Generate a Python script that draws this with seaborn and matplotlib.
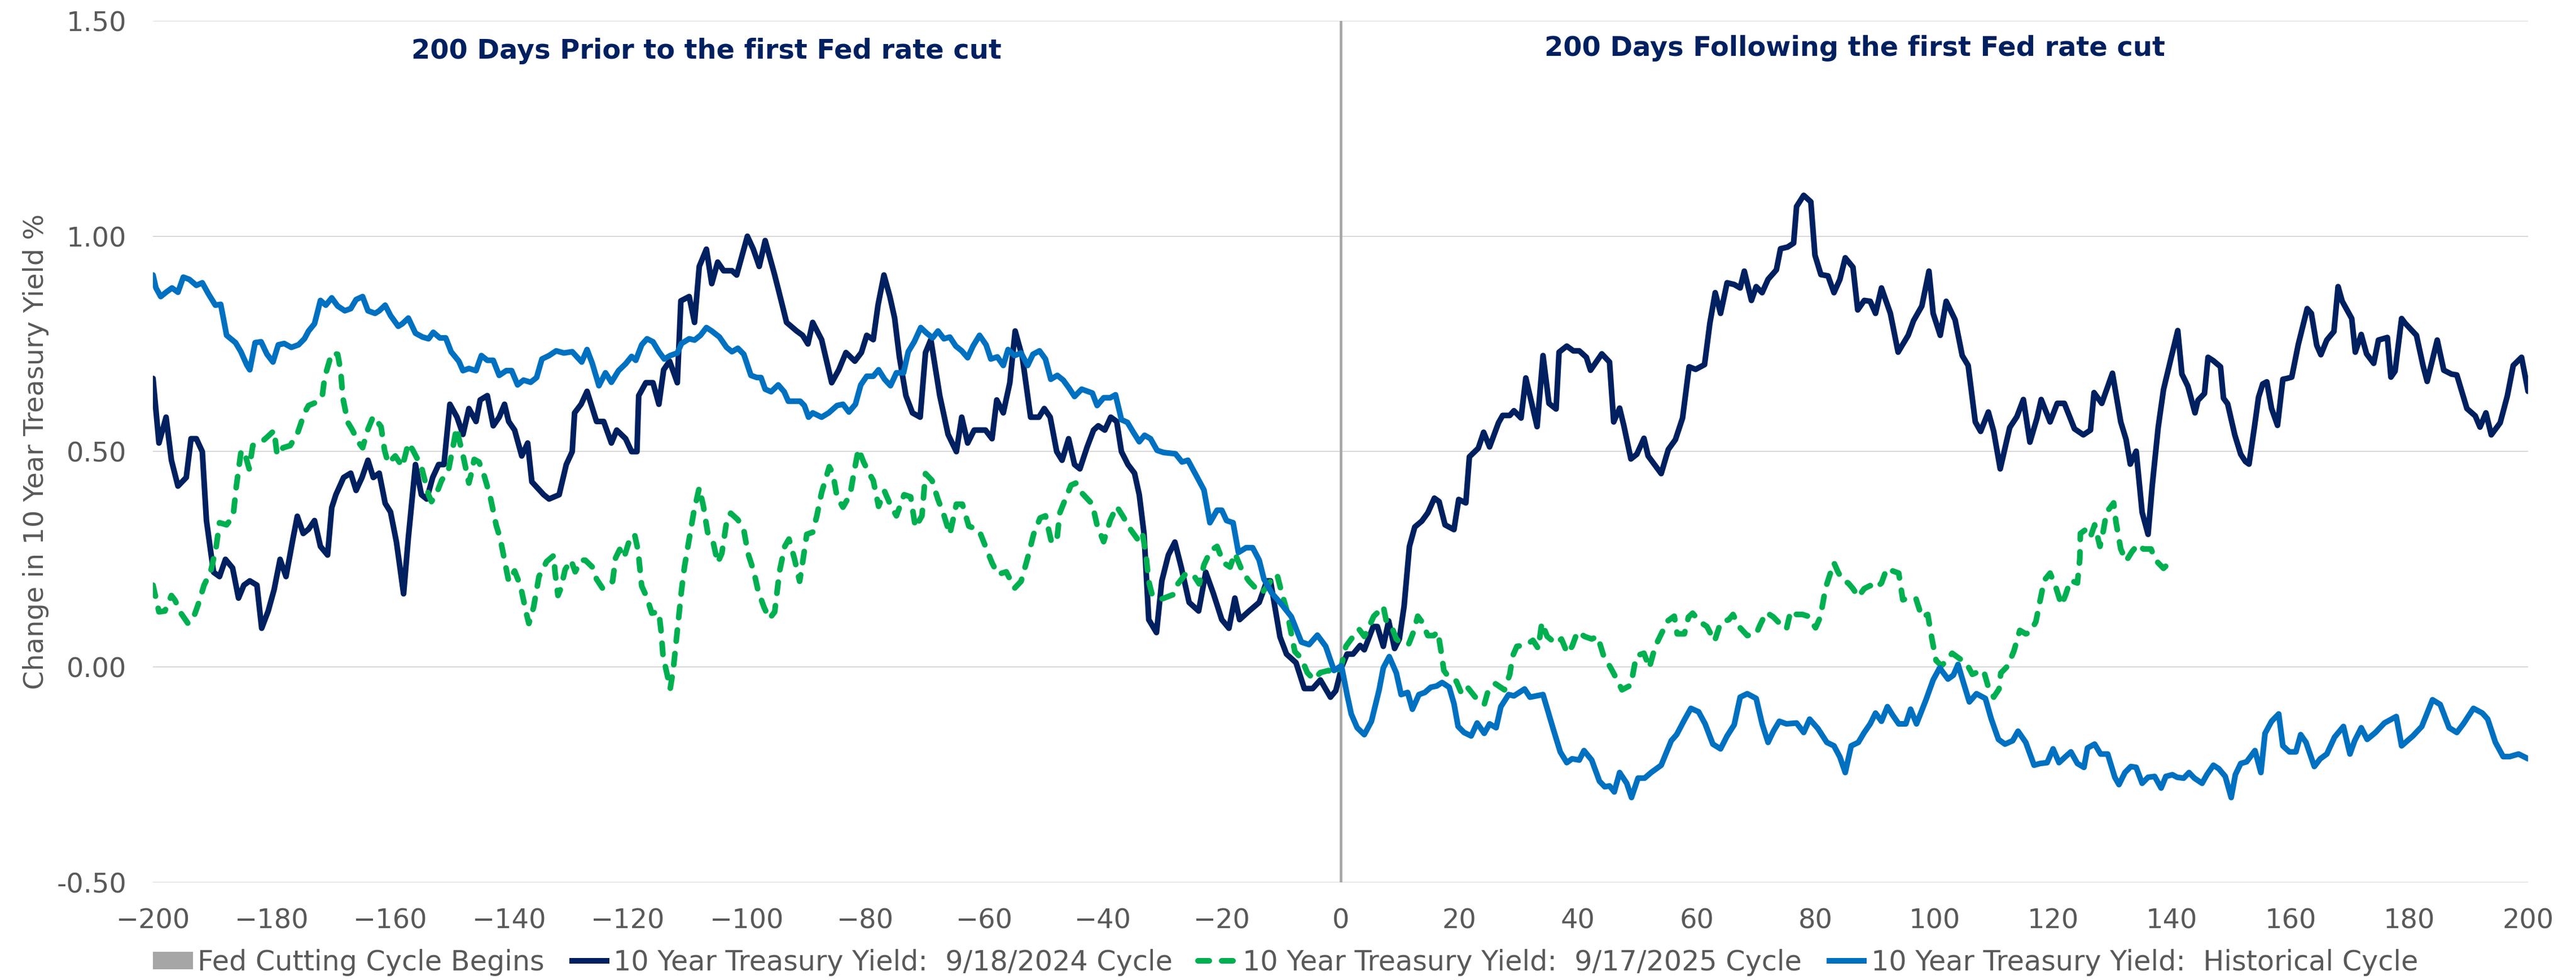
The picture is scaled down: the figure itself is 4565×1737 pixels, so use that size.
import matplotlib
matplotlib.use("Agg")
import matplotlib.pyplot as plt
from matplotlib.lines import Line2D
from matplotlib.patches import Patch
import seaborn as sns
import pandas as pd

# (days from first cut, change in 10y yield %)
cycle_2024 = [
    (-200, .67), (-199, .52), (-197.8, .58), (-196.9, .48), (-195.8, .42), (-194.4, .44), (-193.6, .53),
    (-192.7, .53), (-191.7, .50), (-191, .34), (-189.8, .22), (-188.8, .21), (-187.8, .25), (-186.6, .23),
    (-185.6, .16), (-184.7, .19), (-183.7, .20), (-182.5, .19), (-181.7, .09), (-180.6, .13), (-179.6, .18),
    (-178.6, .25), (-177.6, .21), (-176.4, .30), (-175.7, .35), (-174.7, .31), (-173.8, .32), (-172.8, .34),
    (-171.8, .28), (-170.6, .26), (-169.9, .37), (-169.2, .40), (-167.9, .44), (-166.7, .45), (-165.8, .41),
    (-164.8, .44), (-163.8, .48), (-162.9, .44), (-161.9, .45), (-160.9, .38), (-160, .36), (-159, .29),
    (-157.8, .17), (-157, .30), (-155.8, .47), (-154.8, .40), (-153.9, .39), (-152.9, .44), (-151.9, .47),
    (-151, .47), (-150, .61), (-148.8, .58), (-147.8, .54), (-146.8, .60), (-145.6, .57), (-144.9, .62),
    (-143.7, .63), (-142.7, .56), (-141.7, .58), (-140.8, .61), (-140.1, .57), (-139.1, .55), (-137.9, .49),
    (-136.9, .52), (-136.2, .43), (-134.2, .40), (-133.3, .39), (-131.6, .40), (-130.4, .47), (-129.4, .50),
    (-129, .59), (-127.9, .61), (-126.9, .64), (-125.3, .57), (-124.1, .57), (-122.8, .52), (-121.9, .55),
    (-120.4, .53), (-119.4, .50), (-118.5, .50), (-118.2, .63), (-117, .66), (-115.8, .66), (-114.8, .61),
    (-114, .69), (-113, .71), (-111.7, .66), (-111.1, .85), (-109.7, .86), (-108.8, .80), (-108, .93),
    (-106.8, .97), (-105.9, .89), (-104.9, .94), (-103.9, .92), (-102.5, .92), (-101.7, .91), (-100.9, .95),
    (-99.9, 1.00), (-98.9, .97), (-97.9, .93), (-96.9, .99), (-95.3, .91), (-94.2, .85), (-93.3, .80),
    (-91.6, .78), (-90.6, .77), (-89.7, .75), (-88.9, .80), (-87.4, .76), (-85.7, .66), (-84.5, .69),
    (-83.3, .73), (-81.8, .71), (-80.7, .73), (-79.8, .77), (-78.7, .76), (-77.9, .84), (-76.9, .91),
    (-75.9, .86), (-75.1, .81), (-74.3, .72), (-73.2, .63), (-72.1, .59), (-70.8, .58), (-69.9, .73),
    (-69, .76), (-67.5, .63), (-66.1, .54), (-64.7, .50), (-63.8, .58), (-62.8, .52), (-61.7, .55),
    (-59.8, .55), (-58.7, .53), (-57.9, .62), (-56.8, .59), (-55.7, .66), (-54.8, .78), (-53.6, .72),
    (-52.2, .58), (-50.8, .58), (-49.9, .60), (-48.9, .58), (-47.8, .50), (-46.9, .48), (-45.8, .53),
    (-44.8, .47), (-43.9, .46), (-42.7, .51), (-41.6, .55), (-40.8, .56), (-39.7, .55), (-38.7, .58),
    (-37.7, .57), (-36.9, .50), (-35.8, .47), (-34.7, .45), (-33.9, .40), (-33.1, .31), (-32.3, .11),
    (-31, .08), (-30.1, .20), (-29, .26), (-27.9, .29), (-26.8, .23), (-25.5, .15), (-23.9, .13),
    (-22.7, .22), (-21.4, .17), (-20, .11), (-18.8, .09), (-17.8, .16), (-17, .11), (-15.4, .13),
    (-13.7, .15), (-12.4, .20), (-11.8, .20), (-10.2, .07), (-9.1, .03), (-7.5, .01), (-6.1, -.05),
    (-4.7, -.05), (-3.4, -.03), (-1.7, -.07), (-0.8, -.055), (0.2, .00), (1.1, .03), (2.1, .03),
    (3.3, .05), (4, .04), (4.7, .065), (5.5, .094), (6.2, .094), (7.2, .048), (8.1, .107), (9.1, .043),
    (9.9, .065), (10.7, .141), (11.6, .28), (12.5, .325), (13.7, .339), (14.7, .358), (15.8, .392),
    (16.6, .384), (17.6, .33), (19.1, .319), (19.9, .389), (21.1, .381), (21.7, .488), (23.2, .508),
    (24.1, .545), (25.1, .511), (26.6, .567), (27.3, .584), (28.5, .584), (29.2, .595), (30.4, .578),
    (31.2, .671), (32.2, .612), (33.1, .558), (34.1, .723), (35.1, .612), (36.3, .599), (36.8, .731),
    (38.1, .745), (39.2, .734), (40.2, .734), (41.4, .719), (42.1, .689), (44, .727), (45.3, .708),
    (46, .569), (47, .601), (47.7, .561), (48.9, .483), (49.9, .494), (51.1, .531), (51.8, .49),
    (54, .449), (55.2, .505), (56.4, .528), (57.6, .578), (58.7, .697), (59.8, .691), (61.3, .702),
    (62.2, .798), (63.1, .869), (64, .821), (65.1, .892), (66.3, .888), (67.3, .88), (68, .919),
    (69.2, .851), (70, .883), (71, .869), (72, .90), (73.4, .922), (74.1, .971), (75.3, .975),
    (76.3, .984), (76.8, 1.069), (78, 1.095), (79.2, 1.08), (79.9, .956), (80.9, .911), (82.1, .908),
    (83.1, .869), (84.1, .90), (85, .95), (86.3, .928), (87.1, .829), (88.2, .851), (89.2, .849),
    (90.1, .821), (91.1, .88), (92.6, .821), (93.9, .731), (95.6, .77), (96.5, .804), (97.9, .838),
    (99.1, .919), (99.8, .821), (101, .77), (102, .849), (103.5, .806), (104.7, .723), (105.7, .70),
    (106.9, .569), (107.8, .547), (109.1, .592), (110, .547), (111.1, .46), (112.7, .556), (113.9, .581),
    (115, .621), (116.1, .522), (117.3, .578), (118, .621), (119.5, .569), (120.7, .612), (121.9, .612),
    (123.6, .553), (125.1, .539), (126.3, .55), (126.9, .637), (128.2, .612), (130, .682), (131.4, .569),
    (132.3, .528), (133, .471), (134, .501), (135, .359), (136, .308), (136.7, .421), (137.7, .556),
    (138.6, .644), (139.9, .719), (141, .781), (141.7, .68), (142.7, .652), (143.9, .59), (144.4, .619),
    (145.5, .635), (146.1, .719), (147, .711), (148.2, .697), (148.7, .624), (149.4, .611), (150.6, .539),
    (151.6, .494), (152.4, .477), (153, .471), (153.9, .556), (154.6, .626), (155.3, .657), (156, .662),
    (156.8, .60), (157.8, .561), (158.7, .668), (159.4, .67), (160.2, .673), (161.3, .749), (162.8, .832),
    (163.5, .821), (164.4, .747), (165.1, .725), (166.1, .759), (167.3, .779), (168, .883), (168.7, .849),
    (170.3, .809), (170.9, .731), (171.9, .772), (172.8, .727), (174, .705), (174.8, .759), (176.3, .765),
    (176.9, .673), (177.6, .687), (178.7, .809), (179.3, .798), (181.2, .77), (182.3, .70), (183, .663),
    (184.7, .759), (185.8, .689), (187.1, .68), (188, .678), (189.7, .60), (191.1, .583), (191.9, .557),
    (192.9, .59), (193.8, .539), (195.3, .567), (196.5, .629), (197.5, .70), (198.9, .719), (200, .64),
]

cycle_2025 = [
    (-200, .19), (-199, .128), (-198, .13), (-196.9, .166), (-196.3, .155), (-195.3, .125), (-194.1, .101),
    (-193.3, .11), (-192.4, .145), (-191.4, .19), (-190.3, .221), (-189.4, .275), (-188.8, .335),
    (-187.6, .33), (-186.5, .351), (-186, .416), (-185.2, .498), (-184.7, .503), (-183.8, .46),
    (-183.2, .514), (-182.5, .52), (-181.5, .525), (-180.6, .536), (-179.6, .549), (-179.1, .492),
    (-178.1, .509), (-176.9, .514), (-175.7, .541), (-174.5, .59), (-173.8, .607), (-172.6, .614),
    (-171.5, .628), (-171.1, .672), (-169.9, .729), (-168.9, .726), (-168.4, .688), (-168, .623),
    (-167.2, .568), (-166.5, .552), (-165.3, .52), (-164.7, .509), (-163.8, .552), (-162.9, .582),
    (-161.6, .558), (-161, .503), (-160.4, .473), (-159.2, .49), (-158, .465), (-157, .52), (-156.3, .505),
    (-154.8, .465), (-153.6, .40), (-153.1, .384), (-152.2, .405), (-151.4, .433), (-150.2, .46),
    (-149.5, .509), (-148.9, .555), (-148.3, .52), (-147.8, .492), (-146.8, .427), (-146.4, .449),
    (-145.9, .482), (-145.1, .476), (-144.2, .443), (-143.2, .395), (-142.2, .329), (-141.5, .297),
    (-140.8, .248), (-140.1, .199), (-139.1, .223), (-138.1, .188), (-137.1, .123), (-136.7, .101),
    (-135.9, .139), (-135, .21), (-133.7, .245), (-132.5, .259), (-132.3, .221), (-131.8, .166),
    (-131.3, .183), (-130.6, .226), (-129.6, .248), (-128.9, .221), (-127.9, .248), (-127.2, .248),
    (-126, .232), (-125.3, .204), (-124.3, .183), (-123.3, .188), (-122.6, .199), (-122.1, .253),
    (-121.4, .273), (-120.7, .253), (-119.7, .297), (-118.9, .308), (-118.3, .27), (-117.7, .188),
    (-116.8, .161), (-116, .125), (-114.8, .128), (-114.4, .079), (-114.1, .025), (-113.4, -.018),
    (-112.9, -.051), (-112.4, -.008), (-111.9, .058), (-111.4, .123), (-111, .177), (-110.5, .232),
    (-109.7, .297), (-108.9, .362), (-108, .416), (-107.3, .373), (-106.6, .313), (-105.6, .286),
    (-104.9, .242), (-104.2, .264), (-103.3, .346), (-102.7, .357), (-101.5, .342), (-100.5, .318),
    (-99.8, .264), (-98.8, .221), (-98.1, .177), (-97.1, .139), (-96.2, .112), (-95.3, .128),
    (-94.5, .221), (-93.6, .28), (-92.9, .297), (-92, .253), (-91.1, .199), (-90.6, .242), (-89.9, .308),
    (-88.9, .313), (-88.2, .351), (-87.4, .405), (-86.1, .465), (-85.5, .449), (-84.8, .395),
    (-83.8, .371), (-82.6, .40), (-81.9, .455), (-81.2, .506), (-80.3, .475), (-79.4, .45), (-78.7, .433),
    (-77.8, .373), (-76.8, .408), (-75.7, .373), (-74.8, .351), (-73.5, .40), (-72.4, .395),
    (-71.6, .324), (-70.5, .351), (-69.9, .449), (-68.8, .433), (-67.8, .389), (-66.9, .357),
    (-65.8, .308), (-64.7, .378), (-63.7, .378), (-62.6, .327), (-60.9, .318), (-59.8, .28),
    (-58.7, .242), (-57.7, .215), (-56.3, .221), (-54.9, .183), (-53.8, .199), (-52.7, .253),
    (-51.7, .308), (-50.6, .346), (-49.7, .351), (-48.7, .291), (-47.8, .291), (-47.3, .357),
    (-46.2, .395), (-45.4, .422), (-44.6, .427), (-43.5, .403), (-41.8, .378), (-41, .329),
    (-39.9, .291), (-38.8, .34), (-37.7, .373), (-36.7, .351), (-35.3, .318), (-34.2, .297),
    (-33.4, .313), (-32.8, .264), (-32.3, .199), (-31.7, .166), (-30.1, .158), (-28.2, .168),
    (-27.4, .193), (-26, .218), (-24.7, .212), (-23.8, .193), (-23, .237), (-21.9, .27), (-20.8, .28),
    (-19.7, .242), (-18.6, .232), (-17.8, .264), (-16.5, .221), (-15.4, .199), (-14.3, .183),
    (-13.2, .172), (-11.8, .199), (-10.7, .215), (-9.9, .172), (-9.1, .134), (-7.7, .036), (-6.6, .02),
    (-5.6, -.013), (-4.5, -.029), (-3.4, -.013), (-2, -.008), (-1.1, -.017), (0.15, .003), (0.9, .048),
    (1.8, .065), (3.1, .088), (4, .071), (4.8, .094), (5.6, .118), (6.5, .13), (7.2, .141), (7.7, .107),
    (8.6, .094), (9.4, .065), (10.3, .054), (11.5, .054), (12.3, .082), (13, .118), (13.7, .105),
    (14.7, .073), (15.7, .073), (16.4, .082), (16.9, .039), (17.4, -.008), (18.3, -.025), (19.5, -.033),
    (20.3, -.059), (21.2, -.044), (22.7, -.07), (24.2, -.087), (24.9, -.053), (26.1, -.039),
    (27.6, -.053), (28.5, -.017), (29, .026), (29.7, .048), (31.2, .051), (32.4, .062), (33.3, .043),
    (33.9, .103), (34.8, .071), (36.3, .054), (37.2, .065), (38.2, .032), (39, .048), (39.9, .082),
    (41.1, .071), (42.3, .065), (43.3, .071), (44.3, .026), (45.5, -.002), (46.5, -.028), (47.4, -.053),
    (48.9, -.042), (49.8, .026), (51.1, .032), (52, -.002), (53, .048), (54.2, .082), (54.9, .105),
    (56.2, .118), (56.7, .077), (57.9, .077), (58.6, .116), (59.3, .125), (60.5, .105), (61.7, .094),
    (63, .06), (64, .103), (65.4, .11), (66.1, .122), (67.1, .094), (68.5, .073), (70, .077),
    (70.7, .099), (71.7, .127), (72.9, .116), (74.1, .099), (75.1, .088), (75.8, .13), (76.8, .122),
    (77.8, .122), (78.7, .118), (80, .091), (80.8, .116), (81.7, .184), (82.5, .218), (83.1, .242),
    (83.8, .22), (84.6, .201), (85.5, .195), (86.3, .182), (87.2, .163), (88.2, .182), (89.2, .189),
    (90.1, .182), (91.1, .195), (92, .229), (93, .223), (94, .218), (94.7, .156), (96, .161),
    (96.9, .159), (97.9, .116), (98.9, .122), (99.6, .065), (100.3, .015), (101.2, .003), (102.2, .017),
    (103, .032), (104.2, .02), (105.4, .009), (106.4, -.017), (107.6, -.01), (108.3, -.008),
    (109, -.042), (110, -.07), (110.9, -.051), (111.2, -.014), (112.4, .003), (113.4, .037),
    (114.4, .085), (115.4, .077), (116.1, .08), (117.1, .105), (118, .167), (118.5, .201), (119.5, .218),
    (120.5, .184), (121.4, .144), (122.1, .167), (122.9, .201), (124.1, .195), (124.5, .251),
    (124.6, .31), (125.5, .319), (126.3, .302), (127, .33), (127.9, .28), (128.5, .319), (129, .359),
    (130.2, .381), (130.6, .336), (131.4, .274), (132.3, .246), (133.3, .268), (134.3, .285),
    (135.2, .274), (136.5, .274), (137.2, .249), (138.6, .229), (140.1, .249),
]

historical = [
    (-200, .91), (-199.5, .88), (-198.7, .86), (-197.8, .87), (-196.8, .88), (-195.8, .87), (-194.9, .905),
    (-193.9, .90), (-192.7, .886), (-191.7, .892), (-190.7, .867), (-189.5, .84), (-188.6, .842),
    (-187.6, .77), (-186.1, .753), (-185.2, .732), (-184.2, .701), (-183.7, .69), (-182.8, .753),
    (-181.8, .755), (-180.8, .726), (-179.8, .708), (-178.9, .748), (-177.9, .751), (-176.7, .742),
    (-175.5, .748), (-174.5, .762), (-173.8, .78), (-172.8, .797), (-171.8, .851), (-170.9, .84),
    (-169.9, .857), (-168.9, .838), (-167.7, .827), (-166.7, .832), (-165.8, .853), (-164.7, .86),
    (-163.8, .827), (-162.6, .821), (-161.9, .827), (-160.9, .84), (-160, .816), (-158.7, .791),
    (-158, .797), (-157, .81), (-155.8, .775), (-154.6, .766), (-153.6, .762), (-152.8, .777),
    (-151.7, .764), (-150.7, .764), (-149.8, .732), (-148.5, .71), (-147.8, .688), (-146.8, .693),
    (-145.6, .688), (-144.7, .723), (-143.7, .712), (-142.7, .712), (-141.7, .677), (-140.5, .688),
    (-139.6, .688), (-138.6, .655), (-137.6, .666), (-136.4, .661), (-135.4, .672), (-134.5, .715),
    (-133.3, .723), (-132.1, .734), (-130.8, .729), (-129.4, .732), (-127.8, .708), (-126.9, .737),
    (-126, .704), (-124.9, .653), (-123.8, .683), (-122.8, .661), (-121.6, .688), (-120.4, .704),
    (-119.4, .721), (-118.7, .712), (-117.7, .748), (-116.8, .762), (-115.8, .755), (-114.8, .732),
    (-113.9, .715), (-112.9, .723), (-111.7, .729), (-111, .751), (-109.7, .762), (-108.8, .759),
    (-107.8, .77), (-106.8, .788), (-105.9, .78), (-104.6, .766), (-103.4, .742), (-102.5, .732),
    (-101.5, .74), (-100.5, .726), (-99.3, .677), (-98.3, .672), (-97.6, .672), (-96.9, .645),
    (-95.9, .639), (-94.7, .655), (-93.7, .639), (-93, .617), (-91, .617), (-90.3, .607), (-89.6, .58),
    (-88.9, .59), (-87.4, .58), (-86.2, .59), (-84.8, .607), (-83.8, .61), (-82.8, .592), (-81.7, .61),
    (-80.8, .655), (-79.8, .675), (-78.7, .675), (-77.8, .69), (-76.8, .668), (-75.8, .653),
    (-74.8, .683), (-73.6, .683), (-72.8, .732), (-71.8, .755), (-70.7, .788), (-69.7, .775),
    (-68.7, .764), (-67.8, .78), (-66.8, .762), (-65.8, .766), (-64.8, .745), (-63.8, .734),
    (-62.8, .718), (-61.9, .745), (-60.8, .77), (-59.7, .748), (-58.9, .715), (-57.8, .72), (-56.8, .70),
    (-56, .737), (-54.9, .723), (-53.8, .729), (-52.7, .70), (-51.8, .726), (-50.7, .734), (-49.7, .715),
    (-48.8, .668), (-47.7, .677), (-46.7, .666), (-45.7, .647), (-44.8, .628), (-43.6, .645),
    (-41.8, .636), (-41, .607), (-39.9, .625), (-38.8, .625), (-37.9, .632), (-36.9, .574),
    (-35.9, .568), (-34.9, .545), (-33.9, .523), (-33, .538), (-32, .53), (-30.9, .503), (-29.8, .498),
    (-27.8, .495), (-26.7, .476), (-25.7, .48), (-24.4, .447), (-23, .411), (-22, .335), (-20.8, .364),
    (-20, .364), (-19.2, .34), (-18.1, .335), (-17.2, .266), (-15.9, .277), (-14.8, .277), (-13.7, .248),
    (-12.9, .204), (-11.6, .172), (-9.9, .145), (-8.3, .117), (-6.6, .058), (-5.3, .052), (-3.9, .074),
    (-2.5, .048), (-1.1, -.008), (0.15, .003), (1.1, -.064), (1.8, -.109), (2.8, -.141), (4, -.157),
    (5.2, -.126), (6.5, -.053), (7.2, -.002), (8.2, .024), (9.4, -.014), (10.2, -.064), (11.3, -.059),
    (12.1, -.098), (13.2, -.064), (14.2, -.059), (15.2, -.047), (16.2, -.044), (17.1, -.036),
    (18.3, -.047), (19.1, -.085), (19.8, -.138), (20.8, -.152), (22, -.16), (23, -.13), (24.2, -.154),
    (25.1, -.132), (26.2, -.141), (27, -.092), (28.3, -.064), (29.2, -.067), (31, -.051), (31.9, -.07),
    (34.1, -.064), (35.8, -.143), (37, -.197), (38.1, -.222), (39, -.213), (40.2, -.216), (41, -.194),
    (42.3, -.216), (43.6, -.265), (44.5, -.278), (45.3, -.276), (46.1, -.29), (47, -.245), (48.2, -.27),
    (49, -.303), (50.1, -.258), (51.2, -.258), (52.3, -.245), (54, -.228), (55.7, -.171), (56.6, -.157),
    (57.9, -.123), (59, -.096), (60.3, -.104), (61.4, -.132), (62.7, -.179), (64, -.19), (65.1, -.16),
    (66.3, -.134), (67.3, -.07), (68.5, -.062), (70, -.073), (71, -.132), (72, -.175), (72.9, -.149),
    (73.9, -.126), (75.1, -.132), (76.8, -.13), (78, -.152), (79, -.121), (80.4, -.143), (81.9, -.175),
    (83.1, -.183), (84.1, -.209), (85, -.245), (86, -.183), (87.2, -.175), (88.2, -.152), (89.2, -.132),
    (90.1, -.107), (91.1, -.126), (92.1, -.092), (93, -.112), (94, -.132), (95.2, -.132), (96, -.098),
    (97, -.132), (98.6, -.076), (99.8, -.03), (100.9, -.002), (102.3, -.028), (103.2, -.019), (104, .006),
    (104.9, -.036), (105.9, -.081), (107.1, -.062), (108.6, -.073), (109.6, -.121), (110.8, -.168),
    (111.9, -.179), (113.2, -.171), (114.1, -.149), (115.4, -.175), (116.8, -.228), (117.8, -.224),
    (119, -.222), (120, -.19), (121, -.222), (122.1, -.208), (123, -.197), (124.1, -.224), (125.2, -.233),
    (125.8, -.188), (127, -.179), (128, -.202), (129.2, -.202), (130.4, -.256), (131.1, -.273),
    (132.1, -.245), (133.1, -.231), (134, -.233), (135, -.27), (136, -.256), (137.1, -.254),
    (138.2, -.281), (139, -.254), (140.1, -.25), (140.9, -.256), (142, -.258), (142.9, -.245),
    (143.8, -.258), (145.1, -.27), (145.9, -.25), (147, -.228), (147.9, -.236), (149, -.254), (150, -.303),
    (150.7, -.25), (151.6, -.224), (152.6, -.22), (154, -.194), (155, -.245), (155.7, -.154),
    (156.8, -.126), (158, -.109), (158.7, -.183), (159.8, -.197), (160.9, -.197), (161.7, -.157),
    (162.6, -.175), (164, -.231), (165, -.213), (166.1, -.202), (167.4, -.163), (168.9, -.138),
    (170, -.202), (170.8, -.171), (171.9, -.141), (172.9, -.168), (174.3, -.152), (175.8, -.13),
    (177.8, -.115), (178.7, -.183), (180.6, -.16), (182.1, -.138), (183.9, -.076), (185.2, -.087),
    (186.7, -.141), (188, -.152), (189.1, -.132), (190.8, -.096), (192.3, -.107), (193.2, -.121),
    (194.5, -.175), (195.8, -.208), (196.9, -.208), (198.4, -.202), (200, -.213),
]

labels = [
    "Fed Cutting Cycle Begins",
    "10 Year Treasury Yield:  9/18/2024 Cycle",
    "10 Year Treasury Yield:  9/17/2025 Cycle",
    "10 Year Treasury Yield:  Historical Cycle",
]
panel_titles = ["200 Days Prior to the first Fed rate cut", "200 Days Following the first Fed rate cut"]
x_ticks = list(range(-200, 201, 20))
y_ticks = [-0.5, 0.0, 0.5, 1.0, 1.5]
cut_day = 0

NAVY = "#002060"
GREEN = "#00B050"
BLUE = "#0070C0"
GRAY = "#A6A6A6"
TEXT = "#595959"
FS = 34.5
LW = 7.2

sns.set_style("white")
plt.rcParams["font.family"] = ["DejaVu Sans"]

fig = plt.figure(figsize=(45.65, 17.37), dpi=100)
ax = fig.add_axes([0.0594, 0.0996, 0.9220, 0.8791])

ax.axvline(cut_day, color=GRAY, lw=3.3, zorder=1.5)

series = [
    (cycle_2024, NAVY, "-"),
    (cycle_2025, GREEN, (0, (2.0, 2.2))),
    (historical, BLUE, "-"),
]
for pts, col, ls in series:
    df = pd.DataFrame(pts, columns=["day", "change"])
    sns.lineplot(data=df, x="day", y="change", ax=ax, color=col, lw=LW, linestyle=ls,
                 estimator=None, sort=False, legend=False,
                 dash_capstyle="round", solid_capstyle="round", solid_joinstyle="round", zorder=3)

ax.set_xlim(-200, 200)
ax.set_ylim(-0.5, 1.5)
ax.set_xticks(x_ticks)
ax.set_yticks(y_ticks)
ax.set_yticklabels([f"{v:.2f}" for v in y_ticks])
ax.yaxis.grid(True, color="#D9D9D9", lw=1.5, zorder=0)
ax.xaxis.grid(False)
ax.set_axisbelow(True)
sns.despine(ax=ax, left=True, bottom=True)
ax.tick_params(axis="both", length=0, labelsize=FS, colors=TEXT)
ax.tick_params(axis="x", pad=32)
ax.tick_params(axis="y", pad=34)
ax.set_xlabel("")
ax.set_ylabel("Change in 10 Year Treasury Yield %", fontsize=FS, color=TEXT, va="center")
ax.yaxis.set_label_coords(-0.0494, 0.5)

ax.text(0.233, 0.965, panel_titles[0], transform=ax.transAxes, ha="center", va="center",
        fontsize=FS, fontweight="bold", color=NAVY)
ax.text(0.7166, 0.968, panel_titles[1], transform=ax.transAxes, ha="center", va="center",
        fontsize=FS, fontweight="bold", color=NAVY)

handles = [
    Patch(facecolor=GRAY, edgecolor="none"),
    Line2D([], [], color=NAVY, lw=LW, solid_capstyle="butt"),
    Line2D([], [], color=GREEN, lw=LW, linestyle=(0, (2.0, 2.2)), dash_capstyle="round"),
    Line2D([], [], color=BLUE, lw=LW, solid_capstyle="butt"),
]
fig.legend(handles, labels, loc="center", bbox_to_anchor=(0.499, 0.018), ncol=4, frameon=False,
           fontsize=35.5, labelcolor=TEXT, handlelength=1.45, handleheight=0.6,
           handletextpad=0.15, columnspacing=0.9, borderpad=0, borderaxespad=0)

fig.savefig("out.png", dpi=100)
